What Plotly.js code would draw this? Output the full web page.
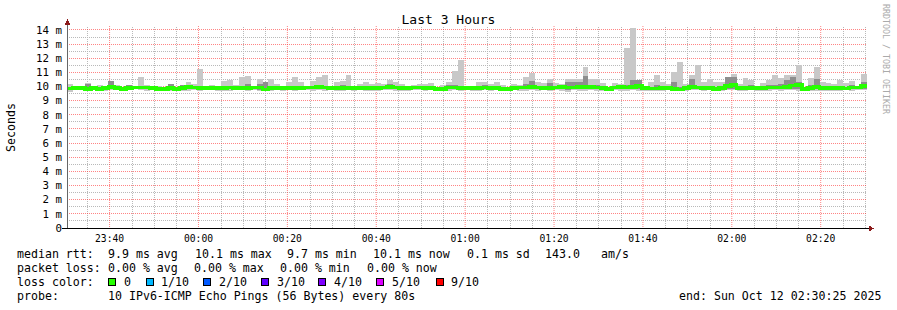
<!DOCTYPE html>
<html>
<head>
<meta charset="utf-8">
<script src="https://cdn.plot.ly/plotly-3.0.1.min.js"></script>
<style>
html,body{margin:0;padding:0;background:#fff;}
#chart{width:897px;height:310px;}
#chart svg path{shape-rendering:crispEdges !important;}
#chart svg path.xgrid{shape-rendering:auto !important;}
</style>
</head>
<body>
<div id="chart"></div>
<script>
// ---- data (ms), one value per 80 s step, 23:30:25 .. 02:30:25 ----
const stepSeconds = 80;
const startTime = "2025-10-11T23:30:25Z";
const endTime = "2025-10-12T02:30:25Z";

const rttMedian = [9.86,9.88,9.88,9.83,9.88,9.83,9.88,9.97,9.88,9.83,9.88,9.93,9.93,9.93,9.88,9.83,9.83,9.88,9.83,9.88,9.97,9.93,9.88,9.88,9.88,9.91,9.91,9.93,9.88,9.88,9.88,9.93,9.93,9.79,
9.88,9.88,9.88,9.88,9.91,9.88,9.93,9.93,9.95,9.93,9.88,9.88,9.88,9.88,9.88,9.88,9.91,9.91,9.88,9.93,9.95,9.93,9.88,9.88,9.93,9.93,9.88,9.88,9.83,9.83,9.93,9.93,9.88,
9.88,9.88,9.91,9.93,9.91,9.88,9.83,9.83,9.88,9.93,9.93,9.95,9.93,9.88,9.91,9.93,9.98,9.93,9.93,9.98,9.98,9.95,9.93,9.91,9.83,9.93,9.98,9.93,9.98,10.02,9.88,9.86,9.86,9.88,
9.88,9.81,9.79,9.88,9.95,9.93,9.91,9.88,9.83,9.88,10.02,10.10,9.88,9.88,9.91,9.91,9.88,9.93,9.93,9.93,9.98,10.07,10.12,9.81,9.88,9.98,9.88,9.88,9.88,9.88,9.86,9.93,9.93,10.05];

const rttMax = [10.19,10.00,10.00,10.26,10.05,10.12,10.05,10.40,10.12,10.00,10.10,10.00,10.64,10.12,10.00,10.05,10.00,10.19,10.00,10.12,10.33,10.21,11.27,10.00,10.12,10.05,10.40,10.47,10.12,10.64,10.75,10.05,10.54,10.33,
10.54,10.17,10.00,10.33,10.64,10.33,10.00,10.42,10.64,10.83,10.00,10.33,10.42,10.83,10.00,10.17,10.33,10.17,10.26,10.17,10.47,10.33,10.17,9.98,10.12,10.17,10.17,10.26,10.00,10.10,10.33,11.13,11.91,
10.00,10.05,10.33,10.33,10.17,10.33,10.12,10.00,10.19,10.12,10.71,10.97,10.33,10.28,10.54,10.26,10.17,10.54,10.54,10.54,11.39,10.54,10.54,10.26,10.00,10.26,10.17,12.74,14.13,10.47,10.00,10.33,10.83,10.33,
10.17,11.04,11.75,10.17,10.83,11.49,10.33,10.54,10.33,10.33,10.71,10.87,10.17,10.61,10.47,10.00,10.26,10.47,10.83,10.59,10.83,10.83,11.49,10.00,10.61,11.39,10.33,10.26,10.17,10.47,10.26,10.40,10.05,10.90];

const rttMin = [9.58,9.76,9.78,9.70,9.74,9.65,9.66,9.74,9.78,9.72,9.76,9.80,9.78,9.70,9.78,9.72,9.70,9.72,9.74,9.66,9.72,9.74,9.70,9.76,9.78,9.72,9.70,9.72,9.76,9.78,9.70,9.74,9.72,9.66,
9.72,9.76,9.70,9.78,9.66,9.74,9.78,9.72,9.76,9.70,9.74,9.66,9.70,9.74,9.72,9.76,9.70,9.66,9.72,9.76,9.74,9.70,9.66,9.72,9.76,9.78,9.70,9.74,9.70,9.72,9.70,9.74,9.72,
9.76,9.72,9.70,9.74,9.70,9.76,9.72,9.70,9.74,9.72,9.70,9.74,9.72,9.78,9.70,9.74,9.66,9.62,9.74,9.72,9.66,9.74,9.72,9.70,9.74,9.78,9.72,9.70,9.74,9.72,9.72,9.70,9.70,9.66,
9.76,9.66,9.70,9.72,9.74,9.76,9.70,9.74,9.70,9.72,9.74,9.78,9.66,9.72,9.74,9.66,9.70,9.72,9.74,9.72,9.74,9.76,9.70,9.72,9.70,9.66,9.72,9.70,9.68,9.72,9.74,9.70,9.74,9.76];

const rttUpper = [9.98,9.96,9.96,10.17,9.96,9.95,9.98,10.40,9.96,9.92,10.10,9.98,10.02,10.00,9.96,9.92,9.92,10.19,9.92,10.10,10.05,10.02,9.98,9.96,9.98,10.05,10.05,10.02,9.96,10.00,10.17,10.00,10.17,10.30,
10.00,9.98,9.95,10.02,10.05,10.00,9.98,10.02,10.05,10.05,9.96,10.02,10.10,10.05,9.96,9.98,10.05,10.00,10.02,10.05,10.17,10.05,9.98,9.94,10.02,10.05,10.00,10.02,9.92,9.95,10.10,10.10,10.05,
9.96,9.96,10.05,10.10,10.02,10.05,9.95,9.92,10.02,10.02,10.17,10.40,10.05,10.00,10.26,10.05,10.10,10.30,10.30,10.30,10.78,10.10,10.10,10.05,9.92,10.05,10.10,10.10,10.47,10.47,9.96,10.00,10.10,10.00,
10.00,10.30,9.95,9.98,10.54,10.05,10.05,10.02,9.98,10.05,10.66,10.66,9.98,10.05,10.10,9.98,10.02,10.10,10.10,10.17,10.47,10.71,10.30,9.92,10.10,10.54,10.05,10.00,9.98,10.05,10.00,10.10,10.02,10.30];

const rttLower = [9.74,9.80,9.80,9.76,9.80,9.72,9.76,9.82,9.80,9.76,9.80,9.84,9.84,9.80,9.80,9.76,9.74,9.78,9.76,9.74,9.80,9.82,9.78,9.80,9.82,9.80,9.76,9.80,9.80,9.82,9.78,9.80,9.78,9.72,
9.78,9.80,9.78,9.82,9.76,9.80,9.84,9.80,9.82,9.80,9.80,9.76,9.78,9.80,9.80,9.82,9.80,9.76,9.80,9.82,9.82,9.80,9.76,9.80,9.82,9.84,9.78,9.80,9.76,9.78,9.80,9.82,9.80,
9.80,9.78,9.80,9.82,9.78,9.82,9.76,9.76,9.80,9.80,9.80,9.82,9.80,9.84,9.80,9.82,9.80,9.76,9.82,9.80,9.80,9.82,9.80,9.78,9.78,9.84,9.82,9.80,9.82,9.84,9.80,9.78,9.78,9.76,
9.82,9.74,9.76,9.80,9.82,9.84,9.80,9.82,9.76,9.80,9.84,9.86,9.76,9.80,9.82,9.76,9.80,9.82,9.84,9.82,9.84,9.86,9.82,9.76,9.80,9.80,9.80,9.78,9.76,9.80,9.82,9.80,9.82,9.84];

const yTickValues = [0,1,2,3,4,5,6,7,8,9,10,11,12,13,14];
const yTickLabels = ["0","1 m","2 m","3 m","4 m","5 m","6 m","7 m","8 m","9 m","10 m","11 m","12 m","13 m","14 m"];
const firstMinorTick = "2025-10-11T23:35:00Z";  // gray vertical grid every 5 min between the 20-min red lines

const lossLabels = ["0","1/10","2/10","3/10","4/10","5/10","9/10"];
const lossColors = ["#26ff00","#00b8ff","#0059ff","#5e00ff","#7e00ff","#dd00ff","#ff0000"];

const statsLine = [["median rtt:",16],["9.9 ms avg",107],["10.1 ms max",194],["9.7 ms min",286],["10.1 ms now",372],["0.1 ms sd",466],["143.0",544],["am/s",600]];
const lossLine = [["packet loss:",16],["0.00 % avg",107],["0.00 % max",193],["0.00 % min",279],["0.00 % now",366]];
const probeText = "10 IPv6-ICMP Echo Pings (56 Bytes) every 80s";
const endText = "end: Sun Oct 12 02:30:25 2025";

// ---- geometry helpers (pixel -> paper) ----
const L = 67, R = 867, T = 26, B = 228, W = 897, H = 310;
const px = x => (x - L) / (R - L);
const py = y => (B - y) / (B - T);

const t0 = Date.parse(startTime);
const t1 = Date.parse(endTime);
const stepMs = stepSeconds * 1000;
const n = rttMedian.length;
const barX = rttMedian.map((_, i) => t0 + (i + 0.5) * stepMs);
const lineX = rttMedian.map((_, i) => t0 + i * stepMs).concat([t0 + n * stepMs]);
const lineY = rttMedian.concat([rttMedian[n - 1]]);

const mono = "DejaVu Sans Mono, monospace";
const majorGrid = "rgba(255,50,50,0.6)";
const minorGrid = "rgb(185,185,185)";

const traces = [
  {type: "bar", x: barX, base: rttMin, y: rttMax.map((v, i) => v - rttMin[i]),
   width: stepMs, marker: {color: "#c8c8c8", line: {width: 0}}, hoverinfo: "skip"},
  {type: "bar", x: barX, base: rttLower, y: rttUpper.map((v, i) => v - rttLower[i]),
   width: stepMs, marker: {color: "#8e8e8e", line: {width: 0}}, hoverinfo: "skip"},
  {type: "scatter", mode: "lines", x: lineX, y: lineY,
   line: {color: "#26ff00", width: 3.6, shape: "hv"}, hoverinfo: "skip"}
];

const annotations = [];
const txt = (text, x, y, opts = {}) => annotations.push(Object.assign({
  text: text, xref: "paper", yref: "paper", x: px(x), y: py(y),
  xanchor: "left", yanchor: "middle", showarrow: false, borderpad: 0,
  font: {family: mono, size: 11.6, color: "#000"}
}, opts));

statsLine.forEach(([s, x]) => txt(s, x, 254));
lossLine.forEach(([s, x]) => txt(s, x, 268));
txt("loss color:", 16, 282);
const boxX = [108, 146, 203, 261, 318, 376, 436];
const labX = [123, 160, 218, 276, 333, 391, 450];
lossLabels.forEach((s, i) => txt(s, labX[i], 282));
txt("probe:", 16, 296);
txt(probeText, 107, 296);
txt(endText, 678, 296);
txt("Seconds", 11, 127, {xanchor: "center", textangle: -90, font: {family: mono, size: 11.6, color: "#000"}});
txt("RRDTOOL / TOBI OETIKER", 886, 59, {xanchor: "center", textangle: 90, font: {family: mono, size: 8.3, color: "#aaaaaa"}});

const shapes = [];
// gray 5-minute vertical grid (skipping the 20-minute marks, which use the axis' red grid)
const msPerPx = (t1 - t0) / (R - L);
for (let t = Date.parse(firstMinorTick); t < t1; t += 5 * 60000) {
  if (Math.round((t / 60000) % 20) === 0) continue;
  const xp = Math.round(L + (t - t0) / msPerPx) + 0.5;
  shapes.push({type: "line", layer: "below", xref: "paper", yref: "paper",
    x0: px(xp), x1: px(xp), y0: 0, y1: 1,
    line: {color: minorGrid, width: 1, dash: "1px,1px"}});
}
lossColors.forEach((c, i) => shapes.push({type: "rect", xref: "paper", yref: "paper",
  x0: px(boxX[i]), x1: px(boxX[i] + 7), y0: py(278.5), y1: py(285.5),
  fillcolor: c, line: {color: "#000", width: 1}}));
// axis lines and arrows
shapes.push({type: "line", xref: "paper", yref: "paper", x0: px(67.5), x1: px(67.5), y0: py(228), y1: py(23), line: {color: "#666", width: 1}});
shapes.push({type: "line", xref: "paper", yref: "paper", x0: px(62), x1: px(869), y0: py(228.5), y1: py(228.5), line: {color: "#000", width: 1}});
shapes.push({type: "path", xref: "paper", yref: "paper",
  path: `M ${px(64.5)},${py(25)} L ${px(70.5)},${py(25)} L ${px(67.5)},${py(19)} Z`, fillcolor: "#8b1a1a", line: {width: 0}});
shapes.push({type: "path", xref: "paper", yref: "paper",
  path: `M ${px(869)},${py(225.5)} L ${px(869)},${py(231.5)} L ${px(874)},${py(228.5)} Z`, fillcolor: "#8b1a1a", line: {width: 0}});

const layout = {
  width: W, height: H,
  margin: {l: L, r: W - R, t: T, b: H - B, pad: 0},
  paper_bgcolor: "#fff", plot_bgcolor: "rgba(0,0,0,0)",
  showlegend: false, barmode: "overlay", bargap: 0,
  title: {text: "Last 3 Hours", font: {family: mono, size: 13, color: "#000"},
          xref: "container", x: 0.5, xanchor: "center", yref: "container", y: 1 - 19 / H, yanchor: "middle"},
  xaxis: {type: "date", range: [t0, t1],
          tick0: "2025-10-11 23:40:00", dtick: 20 * 60000, tickformat: "%H:%M",
          showgrid: true, gridcolor: majorGrid, griddash: "1px,1px", gridwidth: 1,
          showline: false, zeroline: false, ticks: "", ticklabelstandoff: 3,
          tickfont: {family: mono, size: 9.7, color: "#000"}, fixedrange: true},
  yaxis: {range: [0, 14.28], tickmode: "array", tickvals: yTickValues, ticktext: yTickLabels,
          showgrid: true, gridcolor: majorGrid, griddash: "1px,1px", gridwidth: 1,
          minor: {tick0: 0.5, dtick: 1, showgrid: true, gridcolor: minorGrid, griddash: "1px,1px", gridwidth: 1},
          showline: false, zeroline: false, ticks: "", ticklabelstandoff: 4,
          tickfont: {family: mono, size: 10.8, color: "#000"}, fixedrange: true},
  annotations: annotations,
  shapes: shapes
};

Plotly.newPlot("chart", traces, layout, {staticPlot: true, displayModeBar: false});
</script>
</body>
</html>
